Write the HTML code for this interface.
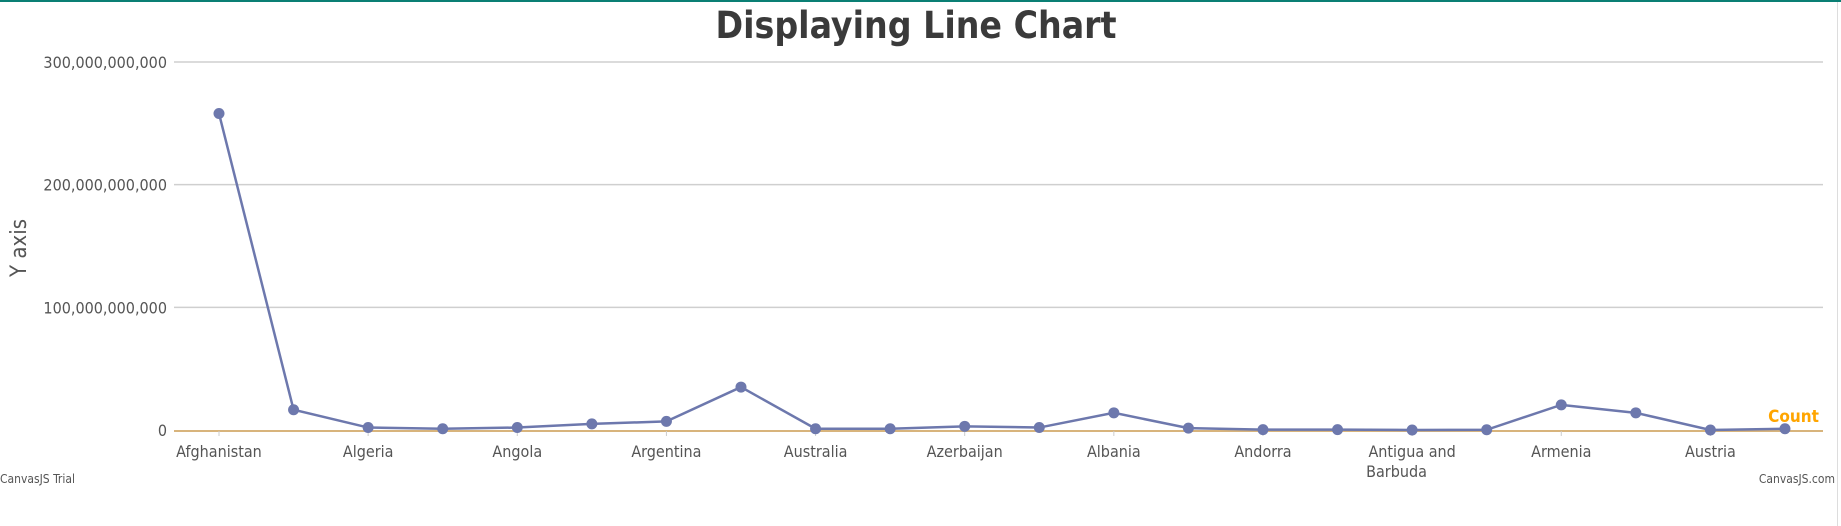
<!DOCTYPE html>
<html><head><meta charset="utf-8"><style>
body{margin:0;background:#fff;}
svg{display:block;font-family:"DejaVu Sans Condensed","Liberation Sans",sans-serif;}
</style></head><body>
<svg id="chart" width="1841" height="526" viewBox="0 0 1841 526">
<rect x="0" y="0" width="1841" height="2" fill="#0a7f74"/>
<line x1="1837.5" y1="2" x2="1837.5" y2="526" stroke="#ddd" stroke-width="1"/>
<text x="916" y="38" text-anchor="middle" font-size="37" font-weight="bold" fill="#3a3a3a">Displaying Line Chart</text>
<text transform="translate(26,248) rotate(-90)" text-anchor="middle" font-size="22" fill="#555">Y axis</text>
<g id="grid"></g><g id="xaxis"></g><g id="series"></g>
<text x="1819" y="422" text-anchor="end" font-size="17" font-weight="bold" fill="#FFA500">Count</text>
<text x="0" y="483" font-size="12" fill="#555">CanvasJS Trial</text>
<text x="1835" y="483" text-anchor="end" font-size="12" fill="#555">CanvasJS.com</text>
</svg>
<script>
const categories=["Afghanistan","Aland Islands","Algeria","American Samoa","Angola","Anguilla","Argentina","Aruba","Australia","Austria","Azerbaijan","Bahamas","Albania","Andorra","Andorra","Antarctica","Antigua and Barbuda","Antilles","Armenia","Aruba","Austria","Azores"];
const values=[258,16.5,2,1,2,5,7,35,1,1,3,2,14,1.5,0.3,0.3,0,0.2,20.5,14,0,1];
const yTicks=[0,100,200,300];
const yTickLabels=["0","100,000,000,000","200,000,000,000","300,000,000,000"];
const ns="http://www.w3.org/2000/svg";
const x=i=>219+i*74.57;
const y=v=>430-v*1.2267;
function mk(t,a,p){const e=document.createElementNS(ns,t);for(const k in a)e.setAttribute(k,a[k]);p.appendChild(e);return e;}
const grid=document.getElementById('grid'),xa=document.getElementById('xaxis'),se=document.getElementById('series');
yTicks.forEach((t,i)=>{
 if(t>0){const g=mk('line',{x1:174,x2:1823,y1:y(t),y2:y(t),stroke:'#cfcfcf','stroke-width':1.5},grid);
 
 }
 const l=mk('text',{x:167,y:y(t)+6,'text-anchor':'end','font-size':16,fill:'#555'},grid);
 l.textContent=yTickLabels[i];
 
 
});
const ax=mk('line',{x1:174,x2:1823,y1:431,y2:431,stroke:'#d8b47c','stroke-width':2},xa);


categories.forEach((c,i)=>{
 if(i%2)return;
 const tk=mk('line',{x1:x(i),x2:x(i),y1:431,y2:436,stroke:'#ccc'},xa);
 
 
 const t=mk('text',{x:x(i),y:457,'text-anchor':'middle','font-size':16,fill:'#555'},xa);
 
 
 if(c==="Antigua and Barbuda"){t.textContent="Antigua and";
  const t2=mk('text',{x:x(i)-46,y:477,'font-size':16,fill:'#555'},xa);t2.textContent="Barbuda";
  
  }
 else t.textContent=c;
});
const pl=mk('polyline',{points:values.map((v,i)=>x(i)+','+y(v)).join(' '),fill:'none',stroke:'#6D78AD','stroke-width':2.5},se);


values.forEach((v,i)=>{
 const c=mk('circle',{cx:x(i),cy:y(v),r:5.5,fill:'#6D78AD'},se);
 
 
});
</script>
</body></html>
